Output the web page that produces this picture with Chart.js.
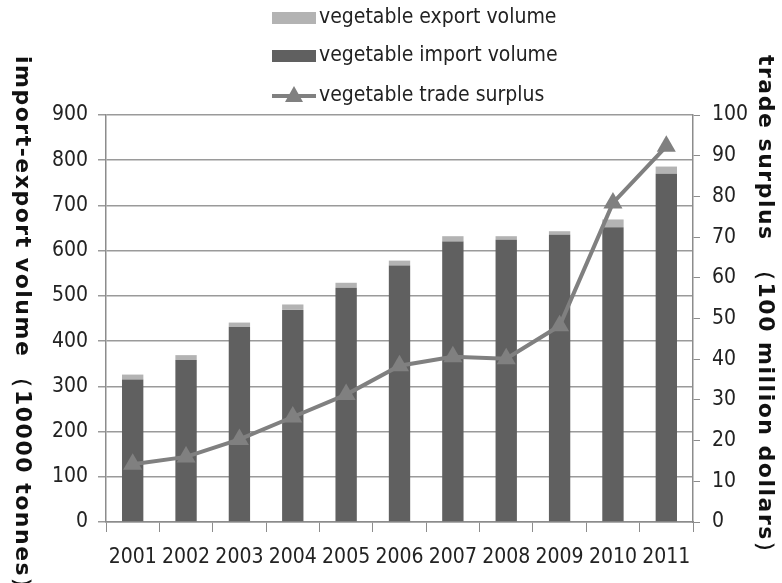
<!DOCTYPE html>
<html>
<head>
<meta charset="utf-8">
<script src="https://cdn.jsdelivr.net/npm/chart.js@4.4.1/dist/chart.umd.min.js"></script>
<style>
  html, body { margin: 0; padding: 0; background: #fff; }
  #wrap { width: 782px; height: 583px; position: relative; }
</style>
</head>
<body>
<div id="wrap"><canvas id="chartTrade"></canvas></div>
<script>
'use strict';
var years = ['2001', '2002', '2003', '2004', '2005', '2006', '2007', '2008', '2009', '2010', '2011'];
var importVolume = [315, 358, 432, 469, 518, 567, 620, 624, 635, 652, 770];
var exportVolume = [11, 11, 9, 12, 11, 11, 12, 8, 8, 17, 16];
var tradeSurplus = [14.2, 16, 20.3, 25.8, 31.3, 38.4, 40.6, 40.1, 48.2, 78.4, 92.3];
var leftTicks = [0, 900, 100];
var rightTicks = [0, 100, 10];

var FONT = "'DejaVu Sans Condensed', 'Liberation Sans', sans-serif";
var TITLE_FONT = "'DejaVu Sans', sans-serif";

// titles on both sides read top to bottom, and the legend is stacked in a column
var sideTitles = {
	id: 'sideTitles',
	afterDraw: function(chart) {
		var ctx = chart.ctx;
		ctx.save();
		ctx.fillStyle = '#111';
		ctx.font = 'bold 22px ' + TITLE_FONT;
		ctx.letterSpacing = '1.5px';
		ctx.textBaseline = 'middle';
		ctx.textAlign = 'left';
		ctx.save();
		ctx.translate(22, 56);
		ctx.rotate(Math.PI / 2);
		ctx.fillText('import-export volume （10000 tonnes）', 0, 0);
		ctx.restore();
		ctx.save();
		ctx.translate(765, 55);
		ctx.rotate(Math.PI / 2);
		ctx.fillText('trade surplus  （100 million dollars）', 0, 0);
		ctx.restore();
		ctx.letterSpacing = '0px';

		// legend
		var rows = [
			{ text: 'vegetable export volume', color: '#b3b3b3', y: 18, kind: 'box' },
			{ text: 'vegetable import volume', color: '#606060', y: 56, kind: 'box' },
			{ text: 'vegetable trade surplus', color: '#808080', y: 96, kind: 'line' }
		];
		ctx.font = '21px ' + FONT;
		rows.forEach(function(r) {
			if (r.kind === 'box') {
				ctx.fillStyle = r.color;
				ctx.fillRect(272, r.y - 6, 44, 12);
			} else {
				ctx.strokeStyle = r.color;
				ctx.lineWidth = 4;
				ctx.beginPath();
				ctx.moveTo(272, r.y);
				ctx.lineTo(316, r.y);
				ctx.stroke();
				ctx.fillStyle = r.color;
				ctx.beginPath();
				ctx.moveTo(294, r.y - 10);
				ctx.lineTo(303, r.y + 6);
				ctx.lineTo(285, r.y + 6);
				ctx.closePath();
				ctx.fill();
			}
			ctx.fillStyle = '#222';
			ctx.fillText(r.text, 319, r.y);
		});
		ctx.restore();
	}
};

var ctx = document.getElementById('chartTrade');
new Chart(ctx, {
	data: {
		labels: years,
		datasets: [{
			type: 'line',
			label: 'vegetable trade surplus',
			data: tradeSurplus,
			yAxisID: 'y1',
			borderColor: '#808080',
			backgroundColor: '#808080',
			borderWidth: 4,
			pointStyle: 'triangle',
			pointRadius: 11,
			pointBorderWidth: 0,
			tension: 0,
			order: 0
		}, {
			type: 'bar',
			label: 'vegetable import volume',
			data: importVolume,
			backgroundColor: '#606060',
			yAxisID: 'y',
			stack: 'vol',
			order: 1,
			categoryPercentage: 1,
			barPercentage: 0.4
		}, {
			type: 'bar',
			label: 'vegetable export volume',
			data: exportVolume,
			backgroundColor: '#b3b3b3',
			yAxisID: 'y',
			stack: 'vol',
			order: 2,
			categoryPercentage: 1,
			barPercentage: 0.4
		}]
	},
	options: {
		responsive: true,
		maintainAspectRatio: false,
		animation: false,
		layout: { padding: { top: 115, left: 0, right: 0, bottom: 0 } },
		plugins: {
			legend: { display: false },
			tooltip: { enabled: false }
		},
		scales: {
			x: {
				stacked: true,
				grid: { display: true, drawOnChartArea: false, drawTicks: true, tickLength: 10, color: '#8c8c8c', offset: true },
				border: { color: '#8c8c8c', width: 1.5 },
				ticks: { color: '#222', font: { family: FONT, size: 21 }, padding: 13, maxRotation: 0 },
				afterFit: function(s) { s.height = 61; }
			},
			y: {
				stacked: true,
				position: 'left',
				min: leftTicks[0],
				max: leftTicks[1],
				ticks: { stepSize: leftTicks[2], color: '#222', font: { family: FONT, size: 21 }, padding: 10 },
				grid: { color: '#9a9a9a', lineWidth: 1.5, tickLength: 8 },
				border: { color: '#8c8c8c', width: 1.5 },
				afterFit: function(s) { s.width = 106; }
			},
			y1: {
				position: 'right',
				min: rightTicks[0],
				max: rightTicks[1],
				ticks: { stepSize: rightTicks[2], color: '#222', font: { family: FONT, size: 21 }, padding: 12 },
				grid: { drawOnChartArea: false, color: '#8c8c8c', tickLength: 7 },
				border: { color: '#8c8c8c', width: 1.5 },
				afterFit: function(s) { s.width = 89; }
			}
		}
	},
	plugins: [sideTitles]
});
</script>
</body>
</html>
